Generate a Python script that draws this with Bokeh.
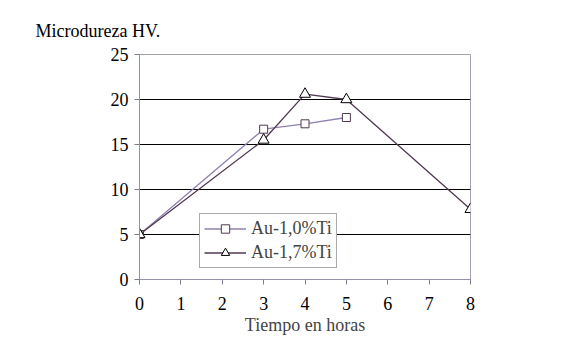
from bokeh.plotting import figure
from bokeh.models import Range1d, Legend, LegendItem, FixedTicker
from bokeh.embed import file_html
from bokeh.resources import INLINE

# data
t1 = [0, 3, 4, 5]
hv1 = [5, 16.7, 17.3, 18.0]
t2 = [0, 3, 4, 5, 8]
hv2 = [5, 15.5, 20.6, 20.0, 7.8]
name1 = "Au-1,0%Ti"
name2 = "Au-1,7%Ti"
x_ticks = [0, 1, 2, 3, 4, 5, 6, 7, 8]
y_ticks = [0, 5, 10, 15, 20, 25]

FONT = "Liberation Serif"
FS = "18px"
c1 = "#9080b0"
c2 = "#503850"

p = figure(width=570, height=354, output_backend="svg", toolbar_location=None,
           x_range=Range1d(0, 8), y_range=Range1d(0, 25),
           min_border_left=139, min_border_right=100, min_border_top=54, min_border_bottom=75)
p.background_fill_color = "white"
p.border_fill_color = "white"
p.outline_line_color = "#a8a0b0"

p.title.text = "Microdureza HV."
p.title.align = "left"
p.title.offset = -104
p.title.standoff = 28
p.title.text_font = FONT
p.title.text_font_style = "normal"
p.title.text_font_size = FS
p.title.text_color = "black"

p.xgrid.visible = False
p.ygrid.ticker = FixedTicker(ticks=[5, 10, 15, 20])
p.ygrid.grid_line_color = "black"
p.ygrid.grid_line_width = 1

for ax in (p.xaxis[0], p.yaxis[0]):
    ax.axis_line_color = "#9890a8"
    ax.major_tick_line_color = "#807890"
    ax.minor_tick_line_color = None
    ax.major_label_text_font = FONT
    ax.major_label_text_font_size = FS
    ax.major_label_text_color = "black"
    ax.major_tick_out = 5
    ax.major_tick_in = 0

p.xaxis.ticker = FixedTicker(ticks=x_ticks)
p.yaxis.ticker = FixedTicker(ticks=y_ticks)
p.xaxis.axis_label = "Tiempo en horas"
p.xaxis.axis_label_text_font = FONT
p.xaxis.axis_label_text_font_style = "normal"
p.xaxis.axis_label_text_font_size = FS
p.xaxis.axis_label_standoff = 2
p.xaxis.major_label_standoff = 12
p.yaxis.major_label_standoff = 6

l1 = p.line(t1, hv1, line_color=c1, line_width=1.3)
m1 = p.scatter(t1, hv1, marker="square", size=8, line_color=c2, fill_color="white", line_width=1)
l2 = p.line(t2, hv2, line_color=c2, line_width=1.3)
m2 = p.scatter(t2, hv2, marker="triangle", size=11, line_color="black", fill_color="white", line_width=1)

legend = Legend(items=[LegendItem(label=name1, renderers=[l1, m1]),
                       LegendItem(label=name2, renderers=[l2, m2])],
                location=(60, 11))
legend.label_text_font = FONT
legend.label_text_font_size = FS
legend.border_line_color = "#605060"
legend.border_line_width = 1
legend.background_fill_alpha = 1
legend.glyph_width = 42
legend.glyph_height = 21
legend.label_height = 21
legend.label_standoff = 5
legend.padding = 4
legend.spacing = 3
legend.margin = 0
p.add_layout(legend, "center")

open("out.html", "w").write(file_html(p, INLINE))
